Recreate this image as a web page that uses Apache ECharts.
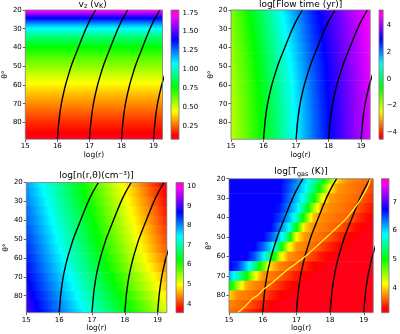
<!DOCTYPE html>
<html><head><meta charset="utf-8">
<script src="https://cdn.jsdelivr.net/npm/echarts@6/dist/echarts.min.js"></script>
<style>html,body{margin:0;padding:0;background:#fff}#c{width:400px;height:334px}</style>
</head><body><div id="c"></div>
<script>
// ---------------- data ----------------
const xTicks = [15, 16, 17, 18, 19];
const yTicks = [20, 30, 40, 50, 60, 70, 80];
const vzTicks = [0.25, 0.5, 0.75, 1.0, 1.25, 1.5, 1.75];
const flowTicks = [-4, -2, 0, 2, 4];
const densTicks = [4, 5, 6, 7, 8, 9, 10];
const tgasTicks = [4, 5, 6, 7];

// v_z (v_K): depends on theta only
const vzTheta = [20, 22, 24, 26, 28, 30, 33, 36, 40, 45, 50, 55, 60, 65, 70, 75, 80, 85, 89];
const vzValues = [1.76, 1.58, 1.42, 1.29, 1.17, 1.07, 0.95, 0.86, 0.76, 0.66, 0.58, 0.50, 0.43, 0.36, 0.30, 0.24, 0.18, 0.13, 0.08];

// grid rows (theta, deg) shared by the 2-D maps
const thetaRows = [20, 25, 30, 35, 40, 45, 50, 55, 60, 65, 70, 75, 80, 85, 89];

// log r columns for flow time and density
const logR = [15, 15.5, 16, 16.5, 17, 17.5, 18, 18.5, 19, 19.3];

const flowTime = [
  [-1.55, -0.75, 0.15, 1.05, 1.90, 2.70, 3.35, 3.95, 4.50, 4.80],
  [-1.61, -0.83, 0.05, 0.95, 1.80, 2.62, 3.29, 3.89, 4.45, 4.76],
  [-1.66, -0.89, -0.03, 0.86, 1.72, 2.55, 3.24, 3.85, 4.41, 4.72],
  [-1.71, -0.95, -0.10, 0.78, 1.65, 2.49, 3.19, 3.81, 4.38, 4.69],
  [-1.75, -1.00, -0.17, 0.71, 1.58, 2.43, 3.15, 3.77, 4.34, 4.66],
  [-1.80, -1.05, -0.23, 0.64, 1.52, 2.37, 3.10, 3.73, 4.31, 4.64],
  [-1.84, -1.10, -0.30, 0.57, 1.45, 2.32, 3.06, 3.69, 4.28, 4.61],
  [-1.87, -1.14, -0.35, 0.51, 1.40, 2.27, 3.03, 3.66, 4.25, 4.59],
  [-1.90, -1.18, -0.40, 0.46, 1.35, 2.23, 3.00, 3.64, 4.23, 4.56],
  [-1.93, -1.21, -0.44, 0.42, 1.31, 2.19, 2.97, 3.61, 4.20, 4.55],
  [-1.95, -1.24, -0.48, 0.38, 1.27, 2.16, 2.95, 3.59, 4.19, 4.53],
  [-1.97, -1.26, -0.50, 0.35, 1.25, 2.14, 2.93, 3.58, 4.17, 4.52],
  [-1.98, -1.28, -0.52, 0.33, 1.23, 2.12, 2.92, 3.57, 4.16, 4.51],
  [-1.99, -1.29, -0.54, 0.31, 1.21, 2.11, 2.91, 3.56, 4.16, 4.51],
  [-2.00, -1.30, -0.55, 0.30, 1.20, 2.10, 2.90, 3.55, 4.15, 4.50]
];

const density = [
  [7.90, 7.40, 6.90, 6.40, 5.90, 5.40, 4.90, 4.40, 3.90, 3.60],
  [7.98, 7.48, 6.98, 6.48, 5.98, 5.48, 4.98, 4.48, 3.98, 3.68],
  [8.06, 7.56, 7.06, 6.56, 6.06, 5.56, 5.06, 4.56, 4.06, 3.76],
  [8.14, 7.64, 7.14, 6.64, 6.14, 5.64, 5.14, 4.64, 4.14, 3.84],
  [8.22, 7.72, 7.22, 6.72, 6.22, 5.72, 5.22, 4.72, 4.22, 3.92],
  [8.30, 7.80, 7.30, 6.80, 6.30, 5.80, 5.30, 4.80, 4.30, 4.00],
  [8.38, 7.88, 7.38, 6.88, 6.38, 5.88, 5.38, 4.88, 4.38, 4.08],
  [8.46, 7.96, 7.46, 6.96, 6.46, 5.96, 5.46, 4.96, 4.46, 4.16],
  [8.54, 8.04, 7.55, 7.05, 6.56, 6.06, 5.57, 5.07, 4.58, 4.28],
  [8.62, 8.13, 7.64, 7.15, 6.66, 6.17, 5.68, 5.19, 4.70, 4.41],
  [8.70, 8.22, 7.74, 7.26, 6.78, 6.30, 5.82, 5.34, 4.86, 4.57],
  [8.78, 8.30, 7.83, 7.35, 6.88, 6.40, 5.93, 5.45, 4.98, 4.70],
  [8.86, 8.40, 7.93, 7.47, 7.00, 6.54, 6.07, 5.61, 5.14, 4.86],
  [8.94, 8.49, 8.03, 7.58, 7.12, 6.67, 6.21, 5.76, 5.30, 5.03],
  [9.00, 8.56, 8.11, 7.67, 7.22, 6.78, 6.33, 5.89, 5.44, 5.17]
];

// log r columns for the gas temperature
const logRT = [15, 15.25, 15.5, 15.75, 16, 16.25, 16.5, 16.75, 17, 17.25, 17.5, 17.75, 18, 18.25, 18.5, 18.75, 19, 19.25, 19.3];

const tgas = [
  [6.75, 6.75, 6.75, 6.75, 6.75, 6.75, 6.75, 6.56, 6.29, 6.01, 5.65, 5.19, 4.57, 3.97, 3.76, 3.71, 3.65, 3.575, 3.55],
  [6.75, 6.75, 6.75, 6.75, 6.75, 6.75, 6.75, 6.50, 6.21, 5.92, 5.42, 4.84, 4.09, 3.78, 3.73, 3.67, 3.62, 3.52, 3.495],
  [6.75, 6.75, 6.75, 6.75, 6.75, 6.75, 6.74, 6.42, 6.11, 5.73, 5.12, 4.25, 3.80, 3.74, 3.69, 3.64, 3.565, 3.44, 3.415],
  [6.75, 6.75, 6.75, 6.75, 6.75, 6.75, 6.66, 6.32, 5.98, 5.39, 4.49, 3.85, 3.75, 3.70, 3.65, 3.59, 3.465, 3.34, 3.295],
  [6.75, 6.75, 6.75, 6.75, 6.75, 6.75, 6.54, 6.18, 5.73, 4.82, 3.94, 3.76, 3.71, 3.65, 3.60, 3.475, 3.35, 3.27, 3.26],
  [6.75, 6.75, 6.75, 6.75, 6.75, 6.72, 6.32, 5.92, 5.07, 4.02, 3.77, 3.71, 3.65, 3.58, 3.455, 3.33, 3.26, 3.21, 3.20],
  [6.75, 6.75, 6.75, 6.75, 6.75, 6.45, 6.01, 5.39, 4.14, 3.79, 3.71, 3.64, 3.55, 3.425, 3.30, 3.25, 3.20, 3.20, 3.20],
  [6.75, 6.75, 6.75, 6.75, 6.42, 5.98, 5.30, 4.28, 3.79, 3.71, 3.63, 3.52, 3.395, 3.29, 3.24, 3.20, 3.20, 3.20, 3.20],
  [6.75, 6.75, 6.75, 6.46, 5.97, 5.30, 4.36, 3.80, 3.70, 3.60, 3.48, 3.355, 3.27, 3.22, 3.20, 3.20, 3.20, 3.20, 3.20],
  [6.75, 6.57, 6.09, 5.50, 4.75, 3.97, 3.74, 3.65, 3.535, 3.41, 3.295, 3.245, 3.20, 3.20, 3.20, 3.20, 3.20, 3.20, 3.20],
  [6.16, 5.64, 5.08, 4.25, 3.79, 3.70, 3.61, 3.485, 3.36, 3.27, 3.22, 3.20, 3.20, 3.20, 3.20, 3.20, 3.20, 3.20, 3.20],
  [5.19, 4.47, 3.885, 3.74, 3.66, 3.565, 3.44, 3.315, 3.256, 3.206, 3.20, 3.20, 3.20, 3.20, 3.20, 3.20, 3.20, 3.20, 3.20],
  [4.00, 3.76, 3.70, 3.63, 3.525, 3.40, 3.29, 3.24, 3.20, 3.20, 3.20, 3.20, 3.20, 3.20, 3.20, 3.20, 3.20, 3.20, 3.20],
  [3.735, 3.67, 3.605, 3.485, 3.36, 3.275, 3.225, 3.20, 3.20, 3.20, 3.20, 3.20, 3.20, 3.20, 3.20, 3.20, 3.20, 3.20, 3.20],
  [3.66, 3.60, 3.48, 3.355, 3.27, 3.22, 3.20, 3.20, 3.20, 3.20, 3.20, 3.20, 3.20, 3.20, 3.20, 3.20, 3.20, 3.20, 3.20]
];

// streamlines (log r along theta)
const streamTheta = [89, 85, 80, 75, 70, 65, 60, 55, 50, 45, 40, 35, 30, 25, 20];
const stream16 = [16.00, 16.02, 16.045, 16.08, 16.125, 16.185, 16.255, 16.34, 16.43, 16.54, 16.655, 16.77, 16.89, 17.03, 17.195];
const stream17 = [17.00, 17.02, 17.045, 17.08, 17.125, 17.185, 17.255, 17.34, 17.43, 17.54, 17.655, 17.77, 17.89, 18.03, 18.195];
const stream18 = [18.00, 18.02, 18.045, 18.08, 18.125, 18.185, 18.255, 18.34, 18.43, 18.54, 18.655, 18.77, 18.89, 19.03, 19.195];
const stream19 = [19.00, 19.02, 19.045, 19.08, 19.125, 19.185, 19.255, 19.34, 19.43, 19.54, 19.655, 19.77, 19.89, 20.03, 20.195];

// yellow contour in the T_gas map
const contourTheta = [89, 87, 85, 82, 80, 77, 74, 70, 66, 62, 58, 54, 50, 46, 42, 38, 33, 28, 24, 20];
const contourR = [15.26, 15.4, 15.52, 15.68, 15.85, 16.02, 16.25, 16.52, 16.8, 17.12, 17.4, 17.65, 17.9, 18.15, 18.4, 18.6, 18.82, 19.0, 19.12, 19.2];

// ---------------- colour map (gist_rainbow) ----------------
const CM = [[0, [255, 0, 41]], [0.03, [255, 0, 0]], [0.215, [255, 255, 0]], [0.4, [0, 255, 0]],
            [0.586, [0, 255, 255]], [0.77, [0, 0, 255]], [0.954, [255, 0, 255]], [1, [255, 0, 191]]];
const KN = [0.03, 0.215, 0.4, 0.586, 0.77, 0.954];
function cmap(t) {
  t = Math.max(0, Math.min(1, t));
  for (let i = 1; i < CM.length; i++) {
    if (t <= CM[i][0]) {
      const a = CM[i - 1], b = CM[i], f = (t - a[0]) / (b[0] - a[0]);
      return 'rgb(' + [0, 1, 2].map(k => Math.round(a[1][k] + f * (b[1][k] - a[1][k]))).join(',') + ')';
    }
  }
  return 'rgb(255,0,191)';
}
function gradStops(xs, vs, vmin, vmax, x0, x1) {
  const off = x => Math.min(1, Math.max(0, (x - x0) / (x1 - x0)));
  const tn = v => (v - vmin) / (vmax - vmin);
  const stops = [];
  for (let k = 0; k < xs.length; k++) {
    const t = tn(vs[k]);
    stops.push({offset: off(xs[k]), color: cmap(t)});
    if (k < xs.length - 1) {
      const t2 = tn(vs[k + 1]);
      let ks = KN.filter(q => q > Math.min(t, t2) && q < Math.max(t, t2));
      if (t2 < t) ks = ks.reverse();
      ks.forEach(q => {
        const f = (q - t) / (t2 - t);
        stops.push({offset: off(xs[k] + f * (xs[k + 1] - xs[k])), color: cmap(q)});
      });
    }
  }
  return stops;
}

// ---------------- layout ----------------
const FONT = 'DejaVu Sans';
const XMAX = 19.28, YMIN = 20, YMAX = 89;
const panels = [
  {grid: {left: 23, top: 10, width: 139.5, height: 129.3}, cb: {left: 171, top: 10, width: 8, height: 129.3},
   vmin: 0.074, vmax: 1.786, ticks: vzTicks, fmt: v => v.toFixed(2)},
  {grid: {left: 231, top: 10, width: 139.2, height: 129.3}, cb: {left: 379, top: 10, width: 8, height: 129.3},
   vmin: -4.55, vmax: 5.18, ticks: flowTicks, fmt: v => (v < 0 ? '\u2212' + Math.abs(v) : String(v))},
  {grid: {left: 26.3, top: 182.5, width: 140.5, height: 130.2}, cb: {left: 176, top: 182.5, width: 7.5, height: 130.2},
   vmin: 3.54, vmax: 10.19, ticks: densTicks, fmt: v => String(v)},
  {grid: {left: 229, top: 178.7, width: 144.2, height: 134}, cb: {left: 381.5, top: 178.7, width: 7.5, height: 134},
   vmin: 3.14, vmax: 7.8, ticks: tgasTicks, fmt: v => String(v)}
];

const grids = [], xAxes = [], yAxes = [], series = [];
panels.forEach((p, i) => {
  grids.push(Object.assign({show: true, borderColor: '#777', borderWidth: 0.8, backgroundColor: 'transparent', z: 5}, p.grid));
  xAxes.push({gridIndex: i, type: 'value', min: 15, max: XMAX, splitLine: {show: false}, axisLine: {show: false},
    axisTick: {customValues: xTicks, length: 2.5, lineStyle: {color: '#333', width: 0.8}},
    axisLabel: {customValues: xTicks, fontSize: 7, color: '#000', margin: 3.5, fontFamily: FONT},
    name: 'log(r)', nameLocation: 'middle', nameGap: 11, nameTextStyle: {fontSize: 7.5, color: '#000', fontFamily: FONT}});
  yAxes.push({gridIndex: i, type: 'value', inverse: true, min: YMIN, max: YMAX, splitLine: {show: false}, axisLine: {show: false},
    axisTick: {customValues: yTicks, length: 2.5, lineStyle: {color: '#333', width: 0.8}},
    axisLabel: {customValues: yTicks, fontSize: 7, color: '#000', margin: 3.5, fontFamily: FONT},
    name: '\u03b8\u00b0', nameLocation: 'middle', nameRotate: 90, nameGap: 13, nameTextStyle: {fontSize: 7.5, color: '#000', fontFamily: FONT}});
});
panels.forEach((p, i) => {
  const gi = 4 + i;
  grids.push(Object.assign({show: true, borderColor: '#777', borderWidth: 0.8, backgroundColor: 'transparent', z: 5}, p.cb));
  xAxes.push({gridIndex: gi, type: 'value', min: 0, max: 1, show: false});
  yAxes.push({gridIndex: gi, type: 'value', position: 'right', min: p.vmin, max: p.vmax, splitLine: {show: false}, axisLine: {show: false},
    axisTick: {customValues: p.ticks, length: 2.5, lineStyle: {color: '#333', width: 0.8}},
    axisLabel: {customValues: p.ticks, fontSize: 7, color: '#000', margin: 3.5, fontFamily: FONT, formatter: p.fmt}});
  series.push({type: 'custom', xAxisIndex: gi, yAxisIndex: gi, silent: true, data: [[0, p.vmin]],
    renderItem: (params, api) => {
      const a = api.coord([0, p.vmax]), b = api.coord([1, p.vmin]);
      const stops = CM.map(c => ({offset: 1 - c[0], color: cmap(c[0])})).reverse();
      return {type: 'rect', shape: {x: a[0], y: a[1], width: b[0] - a[0], height: b[1] - a[1]},
        style: {fill: {type: 'linear', x: 0, y: 0, x2: 0, y2: 1, colorStops: stops}}};
    }});
});

// panel 1: v_z, vertical gradient from theta profile
series.push({type: 'custom', xAxisIndex: 0, yAxisIndex: 0, silent: true, clip: true, z: 1, data: [[15, YMIN]],
  renderItem: (params, api) => {
    const a = api.coord([15, YMIN]), b = api.coord([XMAX, YMAX]);
    return {type: 'rect', shape: {x: a[0], y: a[1], width: b[0] - a[0], height: b[1] - a[1]},
      style: {fill: {type: 'linear', x: 0, y: 0, x2: 0, y2: 1,
        colorStops: gradStops(vzTheta, vzValues, panels[0].vmin, panels[0].vmax, YMIN, YMAX)}}};
  }});

// panels 2-4: row bands
function rowSeries(idx, cols, rows) {
  const p = panels[idx];
  return {type: 'custom', xAxisIndex: idx, yAxisIndex: idx, silent: true, clip: true, z: 1,
    data: thetaRows.map((th, i) => [15, th, i]),
    renderItem: (params, api) => {
      const i = api.value(2);
      const top = i === 0 ? thetaRows[0] : (thetaRows[i - 1] + thetaRows[i]) / 2;
      const bot = i === thetaRows.length - 1 ? thetaRows[i] : (thetaRows[i] + thetaRows[i + 1]) / 2;
      const a = api.coord([15, top]), b = api.coord([XMAX, bot]);
      const extra = i === thetaRows.length - 1 ? 0 : 0.6;
      return {type: 'rect', shape: {x: a[0], y: a[1], width: b[0] - a[0], height: b[1] - a[1] + extra},
        style: {fill: {type: 'linear', x: 0, y: 0, x2: 1, y2: 0,
          colorStops: gradStops(cols, rows[i], p.vmin, p.vmax, 15, XMAX)}}};
    }};
}
series.push(rowSeries(1, logR, flowTime));
series.push(rowSeries(2, logR, density));
series.push(rowSeries(3, logRT, tgas));

// streamlines on every panel
[stream16, stream17, stream18, stream19].forEach(s => {
  for (let i = 0; i < 4; i++) {
    series.push({type: 'line', xAxisIndex: i, yAxisIndex: i, silent: true, clip: true, z: 3, symbol: 'none', smooth: 0.3,
      lineStyle: {color: '#000', width: 1.4}, data: s.map((r, k) => [r, streamTheta[k]])});
  }
});
series.push({type: 'line', xAxisIndex: 3, yAxisIndex: 3, silent: true, clip: true, z: 3, symbol: 'none', smooth: 0.2,
  lineStyle: {color: '#ffff1a', width: 1.2}, data: contourR.map((r, k) => [r, contourTheta[k]])});

const rich = {
  n: {fontSize: 9, fontFamily: FONT, color: '#000', lineHeight: 11},
  s: {fontSize: 6.5, fontFamily: FONT, color: '#000', lineHeight: 6, verticalAlign: 'bottom'}
};
function title(x, y, text) {
  return {type: 'text', x: x, y: y, silent: true,
    style: {text: text, rich: rich, align: 'center', verticalAlign: 'middle', fontSize: 9, fontFamily: FONT, fill: '#000'}};
}

const chart = echarts.init(document.getElementById('c'), null, {renderer: 'canvas'});
chart.setOption({
  animation: false,
  backgroundColor: '#fff',
  grid: grids, xAxis: xAxes, yAxis: yAxes, series: series,
  graphic: [
    title(92.7, 4.5, '{n|v}{s|z}{n| (v}{s|K}{n|)}'),
    title(300.6, 4.5, '{n|log[Flow time (yr)]}'),
    title(96.5, 175.5, '{n|log[n(r,\u03b8)(cm\u207b\u00b3)]}'),
    title(301, 172, '{n|log[T}{s|gas}{n| (K)]}')
  ]
});
</script></body></html>
